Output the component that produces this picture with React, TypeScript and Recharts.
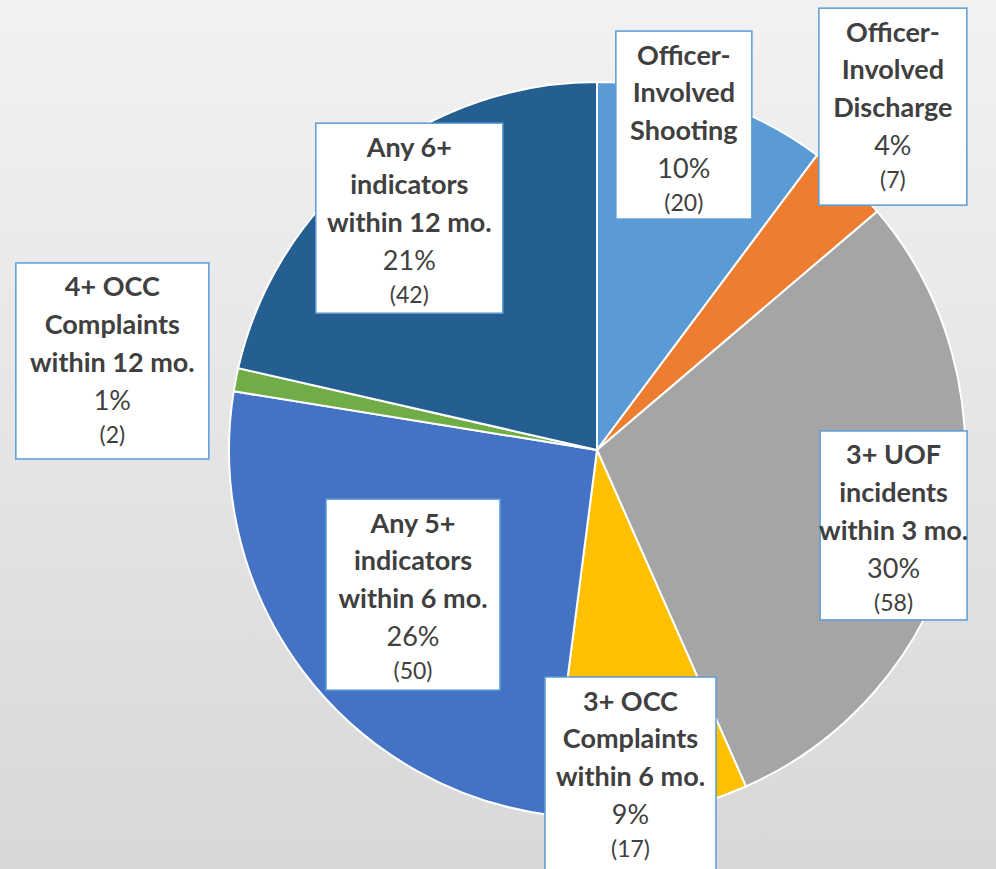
import React from "react";
import { PieChart, Pie, Cell } from "recharts";

const categories = [
  "Officer-\nInvolved\nShooting",
  "Officer-\nInvolved\nDischarge",
  "3+ UOF\nincidents\nwithin 3 mo.",
  "3+ OCC\nComplaints\nwithin 6 mo.",
  "Any 5+\nindicators\nwithin 6 mo.",
  "4+ OCC\nComplaints\nwithin 12 mo.",
  "Any 6+\nindicators\nwithin 12 mo.",
];
const counts = [20, 7, 58, 17, 50, 2, 42];
const colors = ["#5B9BD5", "#ED7D31", "#A5A5A5", "#FFC000", "#4472C4", "#70AD47", "#255E91"];

// label box placement relative to pie centre (fraction of radius) and box size
const labelLayout = [
  { fx: 0.236, fy: -0.883, w: 136, h: 188 },
  { fx: 0.804, fy: -0.933, w: 148, h: 197 },
  { fx: 0.806, fy: 0.205, w: 147, h: 189 },
  { fx: 0.091, fy: 0.89, w: 171, h: 201 },
  { fx: -0.5, fy: 0.393, w: 174, h: 191 },
  { fx: -1.317, fy: -0.242, w: 193, h: 196 },
  { fx: -0.51, fy: -0.63, w: 187, h: 190 },
];

const data = categories.map((name, i) => ({ name, value: counts[i] }));
const total = counts.reduce((a, b) => a + b, 0);

const FONT = "Lato, 'Open Sans', sans-serif";
const TEXT = "#404040";

const renderLabel = (props: any) => {
  const { cx, cy, outerRadius, index, value } = props;
  const L = labelLayout[index];
  const bx = cx + L.fx * outerRadius;
  const by = cy + L.fy * outerRadius;
  const left = bx - L.w / 2;
  const top = by - L.h / 2;
  const lines = categories[index].split("\n");
  const pct = Math.round((value / total) * 100) + "%";
  const step = 37.7;
  const first = top + 23;
  return (
    <g key={"lbl" + index}>
      <rect x={left} y={top} width={L.w} height={L.h} fill="#ffffff" stroke="#5B9BD5" strokeWidth={1.5} />
      {lines.map((t, j) => (
        <text
          key={j}
          x={bx}
          y={first + j * step}
          textAnchor="middle"
          dominantBaseline="central"
          fontFamily={FONT}
          fontWeight={700}
          fontSize={27}
          fill={TEXT}
        >
          {t}
        </text>
      ))}
      <text
        x={bx}
        y={first + 3 * step}
        textAnchor="middle"
        dominantBaseline="central"
        fontFamily={FONT}
        fontSize={27}
        fill={TEXT}
      >
        {pct}
      </text>
      <text
        x={bx}
        y={first + 3 * step + 35}
        textAnchor="middle"
        dominantBaseline="central"
        fontFamily={FONT}
        fontSize={23}
        fill={TEXT}
      >
        {"(" + value + ")"}
      </text>
    </g>
  );
};

export default function App() {
  return (
    <div
      style={{
        position: "absolute",
        left: 0,
        top: 0,
        width: 996,
        height: 869,
        overflow: "hidden",
        background: "linear-gradient(to bottom, #f2f2f2 0%, #d8d8d8 100%)",
      }}
    >
      <PieChart width={996} height={869} margin={{ top: 0, right: 0, bottom: 0, left: 0 }}>
        <Pie
          data={data}
          dataKey="value"
          nameKey="name"
          cx={597}
          cy={450}
          outerRadius={368}
          startAngle={90}
          endAngle={-270}
          stroke="#ffffff"
          strokeWidth={2}
          labelLine={false}
          label={renderLabel}
          isAnimationActive={false}
        >
          {data.map((d, i) => (
            <Cell key={i} fill={colors[i]} />
          ))}
        </Pie>
      </PieChart>
    </div>
  );
}
